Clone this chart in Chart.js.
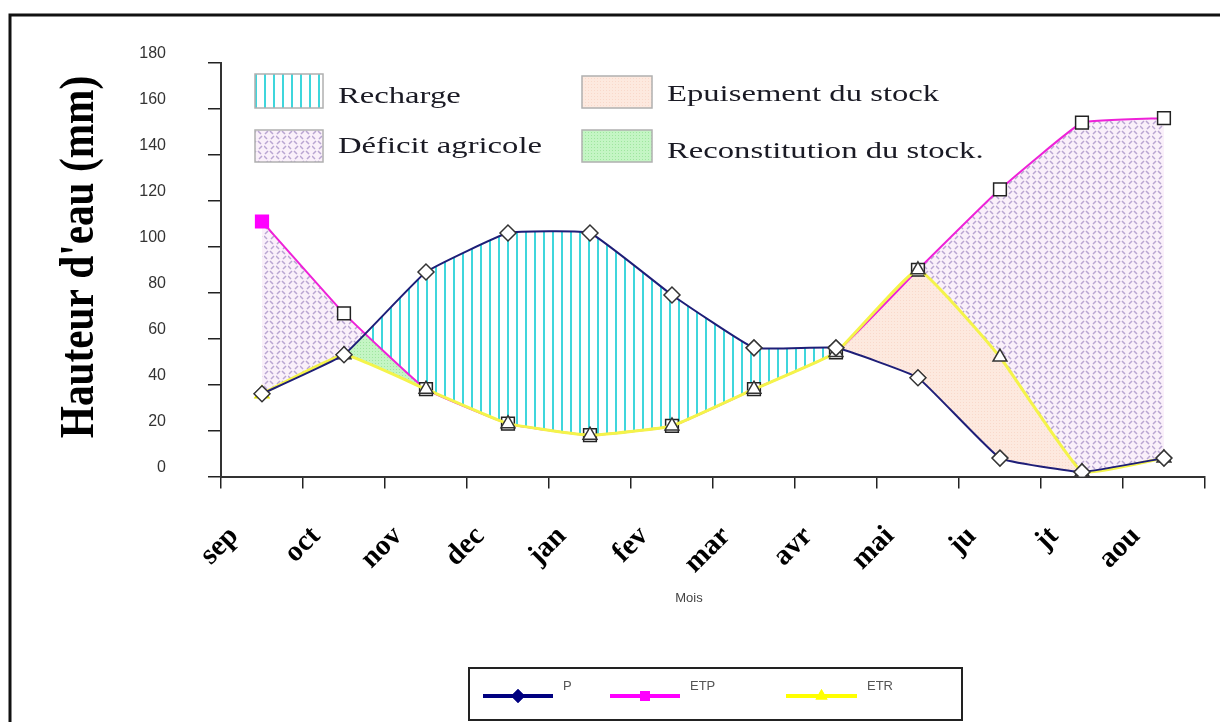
<!DOCTYPE html>
<html>
<head>
<meta charset="utf-8">
<script src="https://cdn.jsdelivr.net/npm/chart.js@4.4.1/dist/chart.umd.min.js"></script>
<style>
  html, body { margin: 0; padding: 0; background: #fff; }
  #wrap { position: relative; width: 1220px; height: 722px; }
</style>
</head>
<body>
<div id="wrap"><canvas id="myChart" width="1220" height="722"></canvas></div>
<script>
// mois et valeurs (mm)
const mois = ['sep', 'oct', 'nov', 'dec', 'jan', 'fev', 'mar', 'avr', 'mai', 'ju', 'jt', 'aou'];
const P   = [36, 53, 89, 106, 106, 79, 56, 56, 43, 8, 2, 8];
const ETP = [111, 71, 38, 23, 18, 22, 38, 54, 90, 125, 154, 156];
const ETR = [36, 53, 38, 23, 18, 22, 38, 54, 90, 52, 2, 8];
const yTicks = [0, 20, 40, 60, 80, 100, 120, 140, 160, 180];

function tile(w, h, fn) {
  const c = document.createElement('canvas');
  c.width = w; c.height = h;
  const g = c.getContext('2d');
  fn(g);
  return g.createPattern(c, 'repeat');
}

// hachures verticales cyan (recharge)
const stripes = tile(9, 9, function(g) {
  g.fillStyle = '#ffffff';
  g.fillRect(0, 0, 9, 9);
  g.fillStyle = '#3fd6dc';
  g.fillRect(3, 0, 2, 9);
});
// motif en chevrons (deficit agricole)
const hatch = tile(12, 10, function(g) {
  g.fillStyle = '#faf0fa';
  g.fillRect(0, 0, 12, 10);
  g.strokeStyle = '#b9a6d2';
  g.lineWidth = 1.5;
  g.beginPath();
  g.moveTo(1, 4); g.lineTo(4, 1);
  g.moveTo(6, 1); g.lineTo(9, 4);
  g.moveTo(7, 9); g.lineTo(10, 6);
  g.moveTo(0, 6); g.lineTo(3, 9);
  g.stroke();
});
function dots(bg, dot) {
  return tile(3, 3, function(g) {
    g.fillStyle = bg;
    g.fillRect(0, 0, 3, 3);
    g.fillStyle = dot;
    g.fillRect(0, 0, 1, 1);
  });
}
const peach = dots('#fde9df', '#f9d9cb');
const green = dots('#c4f5c4', '#9fe69f');

function firstFill(first, rest, n) {
  let a = [];
  for (let i = 0; i < n; i++) a.push(i == 0 ? first : rest);
  return a;
}

const legendPlugin = {
  id: 'cadre',
  beforeDraw(chart) {
    const c = chart.ctx;
    c.save();
    c.fillStyle = '#fff';
    c.fillRect(0, 0, chart.width, chart.height);
    c.restore();
  },
  afterDraw(chart) {
    const c = chart.ctx;
    c.save();
    // cadre
    c.strokeStyle = '#111';
    c.lineWidth = 3;
    c.strokeRect(10, 15, 1240, 760);

    // titres des axes
    c.save();
    c.translate(81, 257);
    c.rotate(-Math.PI / 2);
    c.scale(0.86, 1);
    c.fillStyle = '#000';
    c.font = 'bold 48px "Liberation Serif"';
    c.textAlign = 'center';
    c.textBaseline = 'middle';
    c.fillText("Hauteur d'eau (mm)", 0, 0);
    c.restore();
    c.fillStyle = '#444';
    c.font = '13px "Liberation Sans"';
    c.textAlign = 'center';
    c.textBaseline = 'middle';
    c.fillText('Mois', 689, 598);
    c.textAlign = 'left';

    // legende des zones
    const boxes = [
      [255, 74, 68, 34, stripes, 'Recharge', 338, 97],
      [255, 130, 68, 32, hatch, 'Déficit agricole', 338, 147],
      [582, 76, 70, 32, peach, 'Epuisement du stock', 667, 95],
      [582, 130, 70, 32, green, 'Reconstitution du stock.', 667, 152]
    ];
    for (let i = 0; i < boxes.length; i++) {
      const b = boxes[i];
      c.fillStyle = b[4];
      c.fillRect(b[0], b[1], b[2], b[3]);
      c.strokeStyle = '#b0b0b0';
      c.lineWidth = 1.5;
      c.strokeRect(b[0], b[1], b[2], b[3]);
      c.save();
      c.translate(b[6], b[7]);
      c.scale(1.42, 1);
      c.fillStyle = '#1a1a24';
      c.font = '23px "Liberation Serif"';
      c.textBaseline = 'middle';
      c.fillText(b[5], 0, 0);
      c.restore();
    }

    // legende des series
    c.fillStyle = '#fff';
    c.fillRect(469, 668, 493, 52);
    c.strokeStyle = '#222';
    c.lineWidth = 2;
    c.strokeRect(469, 668, 493, 52);
    const items = [
      ['P', '#000080', 483, 553, 'rectRot'],
      ['ETP', '#ff00ff', 610, 680, 'rect'],
      ['ETR', '#ffff00', 786, 857, 'triangle']
    ];
    for (let i = 0; i < items.length; i++) {
      const it = items[i];
      c.strokeStyle = it[1];
      c.lineWidth = 4;
      c.beginPath();
      c.moveTo(it[2], 696);
      c.lineTo(it[3], 696);
      c.stroke();
      c.fillStyle = it[1];
      Chart.helpers.drawPoint(c, {pointStyle: it[4], radius: 7, borderWidth: 0}, (it[2] + it[3]) / 2, 696);
      c.fill();
      c.fillStyle = '#555';
      c.font = '13px "Liberation Sans"';
      c.textBaseline = 'middle';
      c.fillText(it[0], it[3] + 10, 686);
    }
    c.restore();
  }
};

const config = {
  type: 'line',
  data: {
    labels: mois,
    datasets: [
      {
        label: 'P',
        data: P,
        borderColor: '#1e1e78',
        borderWidth: 2,
        tension: 0.1,
        pointStyle: 'rectRot',
        pointRadius: 8,
        pointBackgroundColor: '#fff',
        pointBorderColor: '#333',
        pointBorderWidth: 1.5,
        fill: {target: 2, above: stripes, below: 'rgba(0,0,0,0)'}
      },
      {
        label: 'ETR',
        data: ETR,
        borderColor: '#f4f44a',
        borderWidth: 3,
        tension: 0.1,
        pointStyle: 'triangle',
        pointRadius: 8,
        pointBackgroundColor: firstFill('#ffff00', '#fff', ETR.length),
        pointBorderColor: firstFill('#e8e800', '#333', ETR.length),
        pointBorderWidth: 1.5,
        fill: {target: 0, above: peach, below: green}
      },
      {
        label: 'ETP',
        data: ETP,
        borderColor: '#ee22d8',
        borderWidth: 2,
        tension: 0.1,
        pointStyle: 'rect',
        pointRadius: 9,
        pointBackgroundColor: firstFill('#ff00ff', '#fff', ETP.length),
        pointBorderColor: firstFill('#ff00ff', '#222', ETP.length),
        pointBorderWidth: 1.5,
        fill: {target: 1, above: hatch, below: 'rgba(0,0,0,0)'}
      }
    ]
  },
  options: {
    responsive: false,
    animation: false,
    layout: {padding: {top: 63, right: 9, left: 0, bottom: 0}},
    plugins: {
      legend: {display: false},
      tooltip: {enabled: false},
      filler: {drawTime: 'beforeDatasetsDraw'}
    },
    scales: {
      x: {
        offset: true,
        afterFit: function(s) { s.height = 245.5; },
        grid: {offset: true, drawOnChartArea: false, drawTicks: true, tickLength: 12, color: '#222', lineWidth: 1.5},
        border: {display: true, color: '#333', width: 2},
        ticks: {
          autoSkip: false,
          minRotation: 45,
          maxRotation: 45,
          labelOffset: -28,
          padding: 31,
          color: '#000',
          font: {family: '"Liberation Serif"', weight: 'bold', size: 29}
        }
      },
      y: {
        min: 0,
        max: 180,
        afterFit: function(s) { s.width = 221; },
        afterBuildTicks: function(s) { s.ticks = yTicks.map(function(v) { return {value: v}; }); },
        grid: {drawOnChartArea: false, drawTicks: true, tickLength: 13, color: '#222', lineWidth: 1.5},
        border: {display: true, color: '#333', width: 2},
        ticks: {
          padding: 42,
          labelOffset: -9,
          color: '#333',
          font: {family: '"Liberation Sans"', size: 16}
        }
      }
    }
  },
  plugins: [legendPlugin]
};

const myChart = new Chart(
  document.getElementById('myChart'),
  config
);
</script>
</body>
</html>
